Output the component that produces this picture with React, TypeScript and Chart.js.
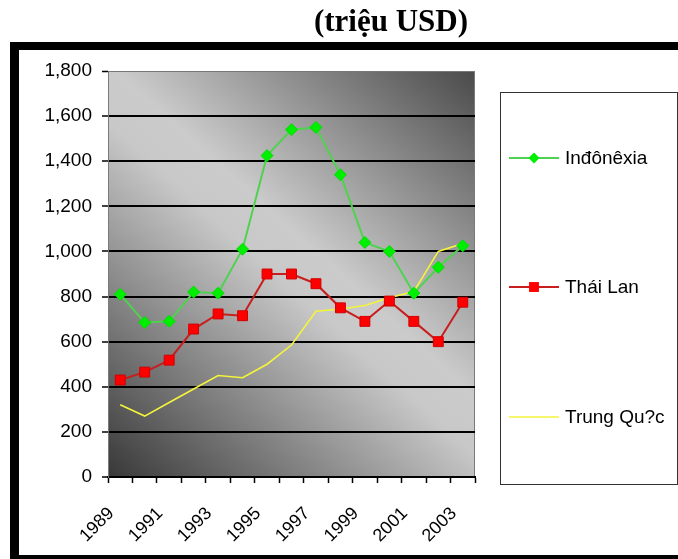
import React, { useEffect, useRef } from 'react';
import { Chart, registerables } from 'chart.js';

Chart.register(...registerables);

// Annual values, million USD
const years = ['1989', '1990', '1991', '1992', '1993', '1994', '1995', '1996', '1997', '1998', '1999', '2000', '2001', '2002', '2003'];
const indonesia = [810, 685, 690, 820, 815, 1010, 1425, 1540, 1550, 1340, 1040, 1000, 815, 930, 1025];
const thailand = [430, 465, 518, 656, 723, 715, 900, 900, 857, 750, 690, 780, 690, 600, 775];
const china = [320, 270, 330, 390, 450, 440, 500, 585, 735, 745, 760, 795, 822, 1000, 1035];
const seriesNames = ['Inđônêxia', 'Thái Lan', 'Trung Qu?c'];
const yMin = 0;
const yMax = 1800;
const yStep = 200;
const titleText = '(triệu USD)';

const FONT = '"Liberation Sans", Arial, sans-serif';

// Page frame, plot background and plot border
const backdrop = {
  id: 'backdrop',
  beforeDraw(chart: any) {
    const { ctx, chartArea: a, width, height } = chart;
    ctx.save();
    ctx.fillStyle = '#fff';
    ctx.fillRect(0, 0, width, height);
    ctx.fillStyle = '#000';
    ctx.fillRect(10, 42, width - 10, 8);
    ctx.fillRect(10, 42, 9, height - 42);
    ctx.fillRect(10, 555, width - 10, 4);
    const g = ctx.createLinearGradient(a.left, a.bottom, a.right, a.top);
    g.addColorStop(0, '#383838');
    g.addColorStop(0.48, '#c8c8c8');
    g.addColorStop(0.56, '#cbcbcb');
    g.addColorStop(1, '#4a4a4a');
    ctx.fillStyle = g;
    ctx.fillRect(a.left, a.top, a.right - a.left, a.bottom - a.top);
    ctx.strokeStyle = '#7a7a7a';
    ctx.lineWidth = 1;
    ctx.strokeRect(a.left + 0.5, a.top + 0.5, a.right - a.left - 1, a.bottom - a.top);
    ctx.restore();
  },
};

// Boxed legend on the right
const sideLegend = {
  id: 'sideLegend',
  afterDraw(chart: any) {
    const { ctx } = chart;
    ctx.save();
    ctx.strokeStyle = '#333';
    ctx.lineWidth = 1;
    ctx.strokeRect(500.5, 92.5, 177, 392);
    const rows = [158, 287, 417];
    chart.data.datasets.forEach((ds: any, i: number) => {
      const y = rows[i];
      ctx.strokeStyle = ds.borderColor;
      ctx.lineWidth = ds.borderWidth;
      ctx.beginPath();
      ctx.moveTo(509, y);
      ctx.lineTo(559, y);
      ctx.stroke();
      const cx = 534;
      if (ds.pointStyle === 'rectRot' && ds.pointRadius > 0) {
        const r = ds.pointRadius - 0.5;
        ctx.fillStyle = ds.pointBackgroundColor;
        ctx.beginPath();
        ctx.moveTo(cx, y - r);
        ctx.lineTo(cx + r, y);
        ctx.lineTo(cx, y + r);
        ctx.lineTo(cx - r, y);
        ctx.closePath();
        ctx.fill();
      } else if (ds.pointStyle === 'rect' && ds.pointRadius > 0) {
        const s = ds.pointRadius * Math.SQRT1_2;
        ctx.fillStyle = ds.pointBackgroundColor;
        ctx.fillRect(cx - s, y - s, 2 * s, 2 * s);
      }
      ctx.fillStyle = '#000';
      ctx.font = `19px ${FONT}`;
      ctx.textAlign = 'left';
      ctx.textBaseline = 'middle';
      ctx.fillText(ds.label, 565, y + 1);
    });
    ctx.restore();
  },
};

export default function App() {
  const ref = useRef<HTMLCanvasElement | null>(null);

  useEffect(() => {
    const canvas = ref.current;
    if (!canvas) return;
    const chart = new Chart(canvas, {
      type: 'line',
      data: {
        labels: years,
        datasets: [
          {
            label: seriesNames[0],
            data: indonesia,
            borderColor: '#4fd24f',
            borderWidth: 2,
            pointStyle: 'rectRot',
            pointRadius: 6,
            pointBackgroundColor: '#00ee00',
            pointBorderColor: '#00dd00',
            pointBorderWidth: 1,
            tension: 0,
          },
          {
            label: seriesNames[1],
            data: thailand,
            borderColor: '#c81e1e',
            borderWidth: 2,
            pointStyle: 'rect',
            pointRadius: 7,
            pointBackgroundColor: '#ff0000',
            pointBorderColor: '#d00000',
            pointBorderWidth: 1,
            tension: 0,
          },
          {
            label: seriesNames[2],
            data: china,
            borderColor: '#f4f43a',
            borderWidth: 1.6,
            pointRadius: 0,
            pointStyle: false as any,
            tension: 0,
          },
        ],
      },
      options: {
        responsive: false,
        animation: false,
        events: [],
        layout: { padding: { left: 20, top: 71, right: 203, bottom: 8 } },
        plugins: {
          legend: { display: false },
          title: { display: false },
          tooltip: { enabled: false },
        },
        scales: {
          x: {
            type: 'category',
            offset: true,
            grid: {
              offset: true,
              drawOnChartArea: false,
              drawTicks: true,
              tickLength: 6,
              tickColor: '#000',
              tickWidth: 1.5,
            },
            border: { color: '#000', width: 2 },
            ticks: {
              autoSkip: false,
              maxRotation: 45,
              minRotation: 45,
              padding: 20,
              labelOffset: -9,
              color: '#000',
              font: { family: FONT, size: 18 },
              callback: (_v: any, i: number) => (i % 2 === 0 ? years[i] : ''),
            },
            afterFit: (s: any) => {
              s.height = 74;
            },
          },
          y: {
            min: yMin,
            max: yMax,
            grid: {
              color: (c: any) => (c.tick && c.tick.value === yMax ? '#777' : '#000'),
              lineWidth: (c: any) => (c.tick && c.tick.value === yMax ? 1 : 2),
              drawTicks: true,
              tickLength: 6,
              tickColor: '#000',
              tickWidth: 1.5,
            },
            border: { color: '#7a7a7a', width: 1 },
            ticks: {
              stepSize: yStep,
              padding: 10,
              color: '#000',
              font: { family: FONT, size: 19 },
              callback: (v: any) => Number(v).toLocaleString('en-US'),
            },
            afterFit: (s: any) => {
              s.width = 88;
            },
          },
        },
      },
      plugins: [backdrop, sideLegend],
    });
    return () => chart.destroy();
  }, []);

  return (
    <div style={{ position: 'absolute', left: 0, top: 0, width: 678, height: 559, background: '#fff', overflow: 'hidden' }}>
      <canvas ref={ref} width={678} height={559} style={{ position: 'absolute', left: 0, top: 0, width: 678, height: 559 }} />
      <div
        style={{
          position: 'absolute',
          left: 391,
          top: 3,
          transform: 'translateX(-50%)',
          whiteSpace: 'nowrap',
          fontFamily: '"Liberation Serif", "Times New Roman", serif',
          fontWeight: 'bold',
          fontSize: 31,
          lineHeight: '36px',
          color: '#000',
        }}
      >
        {titleText}
      </div>
    </div>
  );
}
